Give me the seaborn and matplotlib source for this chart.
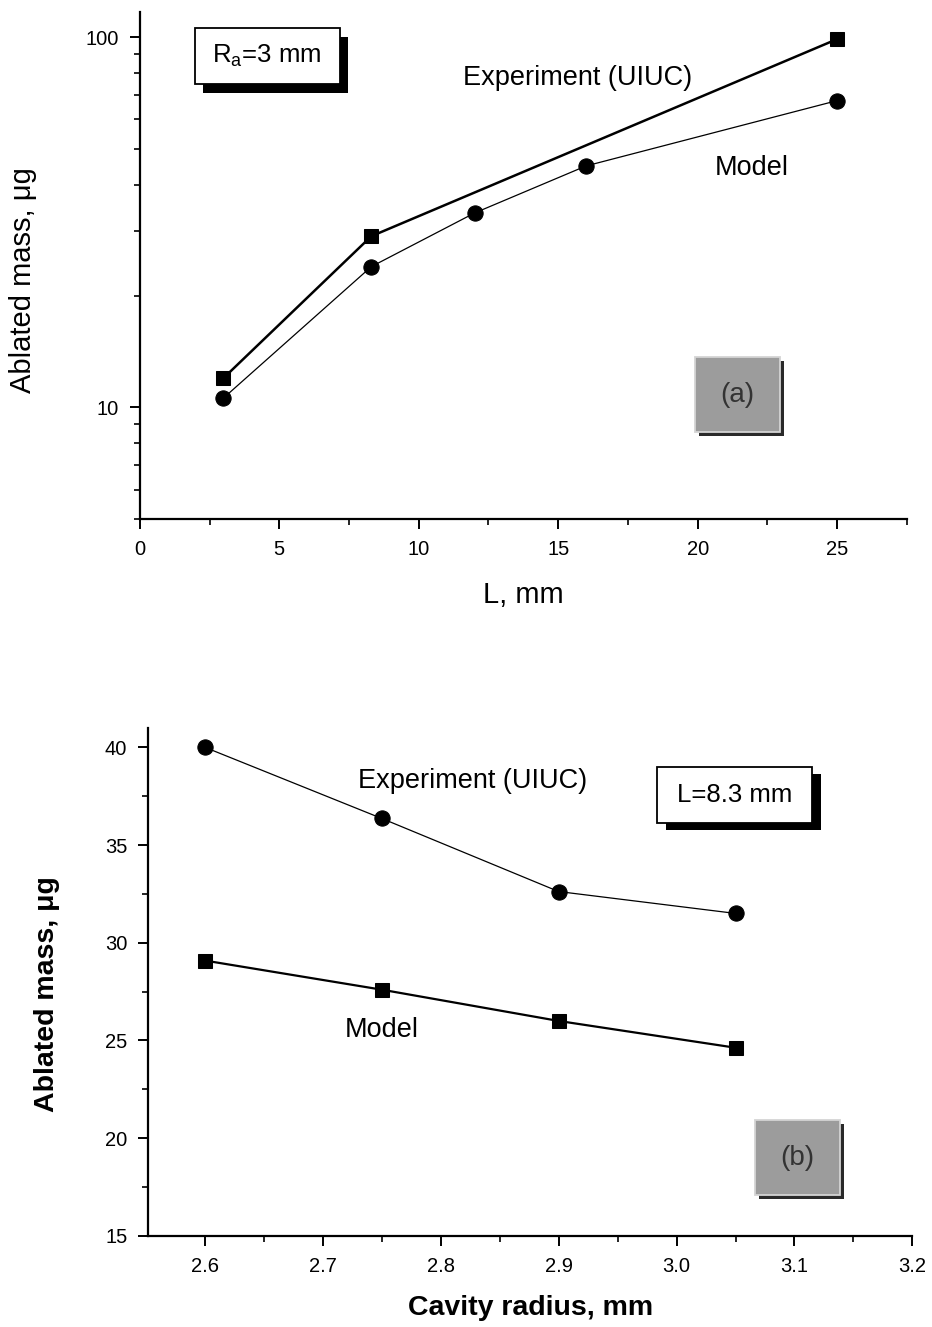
import numpy as np
import pandas as pd
import matplotlib
matplotlib.use("Agg")
import matplotlib.pyplot as plt
from matplotlib.patches import Rectangle
from matplotlib.ticker import LogLocator, MultipleLocator, NullFormatter, FixedLocator
import seaborn as sns

# panel (a): ablated mass vs L (R_a = 3 mm)
L_exp = [3, 8.3, 25]
m_exp_a = [12.0, 29.0, 98.8]
L_model = [3, 8.3, 12, 16, 25]
m_model_a = [10.6, 24.0, 33.5, 44.9, 67.4]

# panel (b): ablated mass vs cavity radius (L = 8.3 mm)
r_cav = [2.6, 2.75, 2.9, 3.05]
m_exp_b = [40.0, 36.36, 32.62, 31.5]
m_model_b = [29.09, 27.6, 26.0, 24.63]

sns.set_style("ticks")
plt.rcParams["font.family"] = ["Liberation Sans", "DejaVu Sans"]
plt.rcParams["mathtext.default"] = "regular"
for k in ["text.color", "axes.labelcolor", "xtick.color", "ytick.color", "axes.edgecolor"]:
    plt.rcParams[k] = "black"
plt.rcParams["axes.linewidth"] = 1.6
plt.rcParams["xtick.major.width"] = 1.4
plt.rcParams["ytick.major.width"] = 1.4
plt.rcParams["xtick.minor.width"] = 1.2
plt.rcParams["ytick.minor.width"] = 1.2
plt.rcParams["xtick.major.size"] = 7
plt.rcParams["ytick.major.size"] = 7
plt.rcParams["xtick.minor.size"] = 4
plt.rcParams["ytick.minor.size"] = 4

fig = plt.figure(figsize=(9.32, 13.27), dpi=100)
ax1 = fig.add_axes([0.150, 0.609, 0.823, 0.382])
ax2 = fig.add_axes([0.159, 0.0686, 0.820, 0.383])


def shadow_box(ax, x0, y0, x1, y1, dx, dy, face, edge, shadow):
    ax.add_patch(Rectangle((x0 + dx, y0 - dy), x1 - x0, y1 - y0, transform=ax.transAxes,
                           facecolor=shadow, edgecolor="none", zorder=5, clip_on=False))
    ax.add_patch(Rectangle((x0, y0), x1 - x0, y1 - y0, transform=ax.transAxes,
                           facecolor=face, edgecolor=edge, lw=1.3, zorder=6, clip_on=False))


# ---- panel (a)
sns.lineplot(x=L_exp, y=m_exp_a, ax=ax1, color="black", lw=1.8, marker="s",
             markersize=10, markeredgecolor="black", sort=False)
sns.lineplot(x=L_model, y=m_model_a, ax=ax1, color="black", lw=0.9, marker="o",
             markersize=11, markeredgecolor="black", sort=False)
ax1.set_yscale("log")
ax1.set_xlim(0, 27.5)
ax1.set_ylim(5, 117)
ax1.xaxis.set_major_locator(MultipleLocator(5))
ax1.xaxis.set_minor_locator(MultipleLocator(2.5))
ax1.yaxis.set_major_locator(FixedLocator([10, 100]))
ax1.yaxis.set_major_formatter(plt.FuncFormatter(lambda v, p: f"{v:g}"))
ax1.yaxis.set_minor_locator(LogLocator(base=10, subs=np.arange(2, 10)))
ax1.yaxis.set_minor_formatter(NullFormatter())
ax1.tick_params(labelsize=14.5, direction="out", pad=8)
ax1.set_xlabel("L, mm", fontsize=21, labelpad=16)
ax1.set_ylabel("Ablated mass, \u03bcg", fontsize=21)
ax1.yaxis.set_label_coords(-0.134, 0.471)
sns.despine(ax=ax1)

ax1.text(11.6, 77.4, "Experiment (UIUC)", fontsize=19.5, ha="left", va="center")
ax1.text(20.6, 44.3, "Model", fontsize=19.5, ha="left", va="center")

shadow_box(ax1, 0.0717, 0.858, 0.2608, 0.968, 0.0105, 0.017, "white", "black", "black")
ax1.text(0.166, 0.913, r"R$_{a}$=3 mm", transform=ax1.transAxes, fontsize=18.5,
         ha="center", va="center", zorder=7)
shadow_box(ax1, 0.7236, 0.1716, 0.8344, 0.3195, 0.005, 0.008, "#9c9c9c", "#d4d4d4", "#2a2a2a")
ax1.text(0.779, 0.245, "(a)", transform=ax1.transAxes, fontsize=20, color="#333333",
         ha="center", va="center", zorder=7)

# ---- panel (b)
sns.lineplot(x=r_cav, y=m_exp_b, ax=ax2, color="black", lw=0.9, marker="o",
             markersize=11, markeredgecolor="black", sort=False)
sns.lineplot(x=r_cav, y=m_model_b, ax=ax2, color="black", lw=1.6, marker="s",
             markersize=10, markeredgecolor="black", sort=False)
ax2.set_xlim(2.552, 3.2)
ax2.set_ylim(15, 41)
ax2.xaxis.set_major_locator(FixedLocator([2.6, 2.7, 2.8, 2.9, 3.0, 3.1, 3.2]))
ax2.xaxis.set_major_formatter(plt.FuncFormatter(lambda v, p: f"{v:.1f}"))
ax2.xaxis.set_minor_locator(FixedLocator([2.55, 2.65, 2.75, 2.85, 2.95, 3.05, 3.15]))
ax2.yaxis.set_major_locator(MultipleLocator(5))
ax2.yaxis.set_minor_locator(MultipleLocator(2.5))
ax2.tick_params(labelsize=14.5, direction="out", pad=8)
ax2.set_xlabel("Cavity radius, mm", fontsize=20.5, fontweight="bold", labelpad=14)
ax2.set_ylabel("Ablated mass, \u03bcg", fontsize=20.5, fontweight="bold")
ax2.yaxis.set_label_coords(-0.115, 0.476)
sns.despine(ax=ax2)

ax2.text(2.730, 38.26, "Experiment (UIUC)", fontsize=19.5, ha="left", va="center")
ax2.text(2.719, 25.55, "Model", fontsize=19.5, ha="left", va="center")

shadow_box(ax2, 0.666, 0.813, 0.869, 0.923, 0.012, 0.014, "white", "black", "black")
ax2.text(0.7675, 0.868, "L=8.3 mm", transform=ax2.transAxes, fontsize=18.5,
         ha="center", va="center", zorder=7)
shadow_box(ax2, 0.7945, 0.0807, 0.9058, 0.228, 0.005, 0.008, "#9c9c9c", "#d4d4d4", "#2a2a2a")
ax2.text(0.850, 0.154, "(b)", transform=ax2.transAxes, fontsize=20, color="#333333",
         ha="center", va="center", zorder=7)

fig.savefig("out.png", dpi=100)
